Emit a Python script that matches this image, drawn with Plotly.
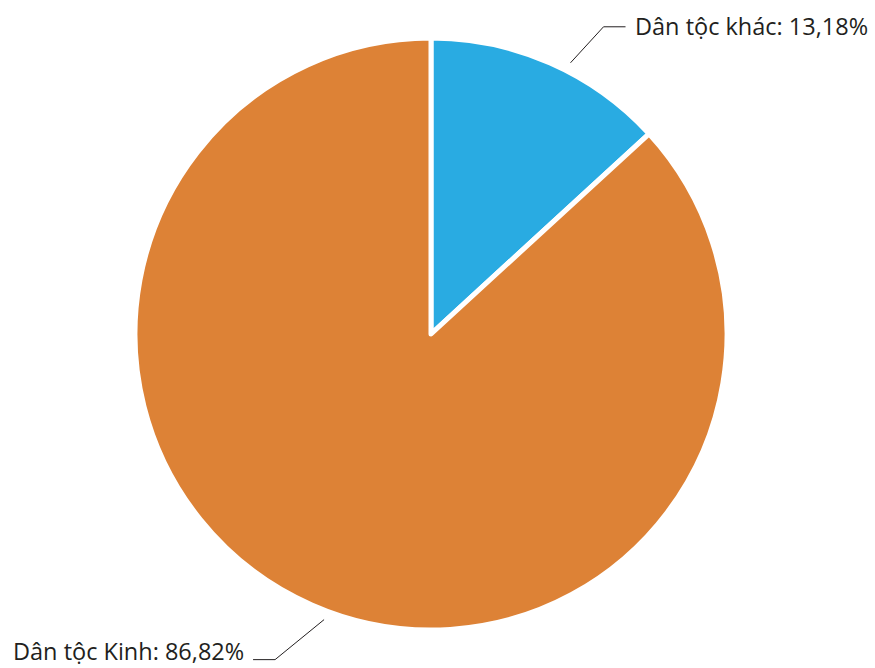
import math
import plotly.graph_objects as go

# Ethnic composition shares (%)
labels = ["Dân tộc khác", "Dân tộc Kinh"]
values = [13.18, 86.82]
colors = ["#29abe2", "#dd8236"]
label_text = ["Dân tộc khác: 13,18%", "Dân tộc Kinh: 86,82%"]

W, H = 875, 668
cx, cy, R = 431, 334, 296  # pie centre and radius in pixels
FONT_SIZE = 23.5

# leader-line styling per label: angular offset of the start point (deg),
# the diagonal segment (px), the horizontal segment length (px)
leaders = [dict(dang=3.5, dx=33, dy=-36, hlen=22),
           dict(dang=-3.2, dx=-49, dy=40, hlen=22)]

fig = go.Figure(go.Pie(
    labels=labels,
    values=values,
    sort=False,
    direction="clockwise",
    rotation=0,
    marker=dict(colors=colors, line=dict(color="white", width=5)),
    textinfo="none",
    hoverinfo="label+percent",
    showlegend=False,
    domain=dict(x=[(cx - R) / W, (cx + R) / W],
                y=[(H - cy - R) / H, (H - cy + R) / H]),
))


def px2paper(x, y):
    return x / W, 1 - y / H


shapes, annotations = [], []
total = sum(values)
start = 0.0
half_box = FONT_SIZE * 1.3 / 2 + 1.5
for val, txt, ld in zip(values, label_text, leaders):
    frac = val / total
    mid = (start + frac / 2) * 360 + ld["dang"]  # clockwise from 12 o'clock
    start += frac
    a = math.radians(mid)
    p0 = (cx + (R + 9) * math.sin(a), cy - (R + 9) * math.cos(a))
    p1 = (p0[0] + ld["dx"], p0[1] + ld["dy"])
    side = 1 if ld["dx"] >= 0 else -1
    p2 = (p1[0] + side * ld["hlen"], p1[1])
    pts = [px2paper(*p) for p in (p0, p1, p2)]
    path = "M {} {} L {} {} L {} {}".format(pts[0][0], pts[0][1], pts[1][0], pts[1][1],
                                             pts[2][0], pts[2][1])
    shapes.append(dict(type="path", xref="paper", yref="paper", path=path,
                       line=dict(color="#231f20", width=1)))
    # keep the label box inside the page
    ty_px = min(max(p2[1] - 1, half_box), H - half_box)
    tx, ty = px2paper(p2[0] + side * 7, ty_px)
    annotations.append(dict(x=tx, y=ty, xref="paper", yref="paper", text=txt,
                            showarrow=False, xanchor="left" if side > 0 else "right",
                            yanchor="middle",
                            font=dict(family="Open Sans", size=FONT_SIZE, color="#231f20")))

fig.update_layout(
    width=W, height=H,
    margin=dict(l=0, r=0, t=0, b=0),
    paper_bgcolor="white", plot_bgcolor="white",
    shapes=shapes, annotations=annotations,
)

fig.write_html("out.html")
